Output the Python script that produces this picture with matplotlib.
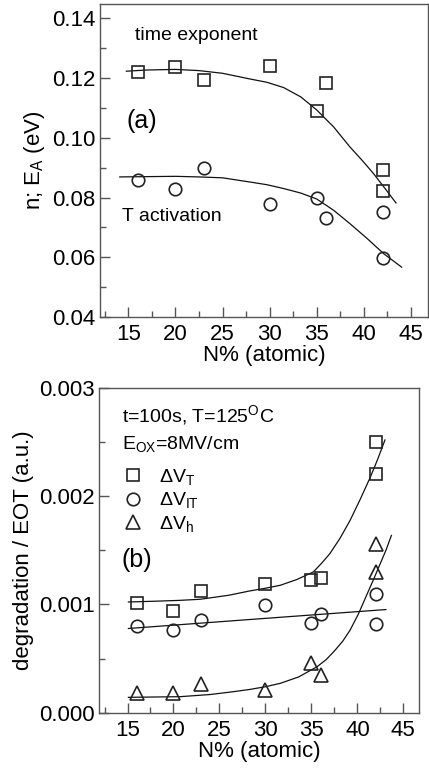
import matplotlib
matplotlib.use("Agg")
import matplotlib.pyplot as plt
from matplotlib.ticker import MultipleLocator, FormatStrFormatter
from matplotlib.lines import Line2D

plt.rcParams['font.family'] = ['Liberation Sans', 'DejaVu Sans']
plt.rcParams['mathtext.fontset'] = 'custom'
plt.rcParams['mathtext.rm'] = 'Liberation Sans'
plt.rcParams['mathtext.it'] = 'Liberation Sans'
plt.rcParams['mathtext.default'] = 'regular'

# ---------------- Panel (a) data ----------------
n_x = [16, 20, 23, 30, 35, 36, 42, 42]
n_time_exp = [0.1221, 0.1238, 0.1193, 0.1241, 0.1089, 0.1184, 0.0891, 0.0822]
ea_x = [16, 20, 23, 30, 35, 36, 42, 42]
ea_t_act = [0.0860, 0.0830, 0.0900, 0.0780, 0.0800, 0.0730, 0.0750, 0.0599]

# fitted guide curves
fit_n_x = [14.8, 17, 20, 22.5, 25, 27.9, 29.7, 31.5, 33.3, 35.0, 36.8, 38.5, 39.8, 41.0, 42.2, 43.4]
fit_n_y = [0.1223, 0.1227, 0.1229, 0.1225, 0.1216, 0.1197, 0.1186, 0.1168, 0.1137, 0.1093, 0.1036, 0.0970, 0.0925, 0.0881, 0.0832, 0.0782]
fit_ea_x = [14.1, 17, 20, 22.5, 25, 27.9, 29.7, 31.5, 33.3, 35.0, 36.8, 38.5, 40.3, 42.1, 44.0]
fit_ea_y = [0.0869, 0.0870, 0.0871, 0.0869, 0.0866, 0.0852, 0.0843, 0.0830, 0.0815, 0.0795, 0.0757, 0.0713, 0.0664, 0.0612, 0.0567]

# ---------------- Panel (b) data ----------------
b_x = [16, 20, 23, 30, 35, 36, 42, 42]
dVT = [0.001017, 0.00094, 0.00112, 0.001186, 0.00123, 0.001248, 0.0025, 0.00221]
dVIT = [0.000805, 0.000768, 0.000854, 0.000993, 0.000833, 0.00091, 0.0011, 0.000824]
dVh = [0.000179, 0.000185, 0.000262, 0.00021, 0.00046, 0.000347, 0.00156, 0.0013]

fit_vt_x = [15.1, 18, 20.7, 22.9, 26, 28.3, 30.0, 31.6, 33.4, 35.2, 36.1, 37.0, 38.1, 39.2, 40.3, 41.4, 42.2, 43.0]
fit_vt_y = [0.001023, 0.001030, 0.001038, 0.001048, 0.001085, 0.001125, 0.00115, 0.001177, 0.00123, 0.001300, 0.00138, 0.001469, 0.00161, 0.001776, 0.00197, 0.002175, 0.00234, 0.00252]
fit_vit_x = [15.1, 28.3, 43.1]
fit_vit_y = [0.000778, 0.000861, 0.000953]
fit_vh_x = [15.1, 20.7, 24.0, 26.5, 28.3, 30.0, 31.6, 33.6, 35.6, 36.6, 37.5, 38.4, 39.2, 40.1, 41.0, 41.7, 42.4, 43.1, 43.7]
fit_vh_y = [0.000142, 0.000148, 0.000168, 0.000194, 0.000215, 0.00024, 0.000271, 0.00033, 0.000424, 0.00049, 0.00057, 0.00066, 0.000762, 0.00091, 0.001085, 0.00122, 0.00136, 0.0015, 0.001638]

xticks = [15, 20, 25, 30, 35, 40, 45]

W, H = 429, 770
fig = plt.figure(figsize=(W / 100, H / 100), dpi=100)

spine_col = '#555555'
mk = dict(linestyle='none', markerfacecolor='none', markeredgecolor='#222222', markeredgewidth=1.2)


def style(ax):
    for s in ax.spines.values():
        s.set_color(spine_col)
        s.set_linewidth(1.0)
    ax.tick_params(which='both', direction='in', colors=spine_col, labelcolor='black',
                   labelsize=16, top=False, right=False)
    ax.tick_params(which='major', length=7, width=1.0, pad=3)
    ax.tick_params(which='minor', length=4, width=1.0)
    ax.tick_params(axis='x', which='major', pad=5)
    ax.xaxis.set_major_locator(MultipleLocator(5))
    ax.xaxis.set_minor_locator(MultipleLocator(2.5))


# ---- (a) ----
ax1 = fig.add_axes([100 / W, 1 - 317 / H, 328 / W, 313 / H])
ax1.plot(fit_n_x, fit_n_y, color='#111111', lw=0.9)
ax1.plot(fit_ea_x, fit_ea_y, color='#111111', lw=0.9)
ax1.plot(n_x, n_time_exp, marker='s', markersize=8, **mk)
ax1.plot(ea_x, ea_t_act, marker='o', markersize=9, **mk)
ax1.set_xlim(12, 46.8)
ax1.set_ylim(0.04, 0.1448)
ax1.set_xticks(xticks)
ax1.yaxis.set_major_locator(MultipleLocator(0.02))
ax1.yaxis.set_minor_locator(MultipleLocator(0.01))
ax1.yaxis.set_major_formatter(FormatStrFormatter('%.2f'))
style(ax1)
ax1.set_xlabel('N% (atomic)', fontsize=16, labelpad=0)
ax1.set_ylabel('n; E$_A$ (eV)', fontsize=16, labelpad=4)
ax1.text(15.74, 0.1341, 'time exponent', fontsize=14, va='center', ha='left')
ax1.text(14.8, 0.1057, '(a)', fontsize=18, va='center', ha='left')
ax1.text(14.33, 0.0735, 'T activation', fontsize=14, va='center', ha='left')

# ---- (b) ----
ax2 = fig.add_axes([99 / W, 1 - 712.7 / H, 320 / W, 324.7 / H])
ax2.plot(fit_vt_x, fit_vt_y, color='#111111', lw=0.9)
ax2.plot(fit_vit_x, fit_vit_y, color='#111111', lw=0.9)
ax2.plot(fit_vh_x, fit_vh_y, color='#111111', lw=0.9)
ax2.plot(b_x, dVT, marker='s', markersize=8, **mk)
ax2.plot(b_x, dVIT, marker='o', markersize=9, **mk)
ax2.plot(b_x, dVh, marker='^', markersize=10.5, **mk)
ax2.set_xlim(11.9, 46.7)
ax2.set_ylim(0, 0.003)
ax2.set_xticks(xticks)
ax2.yaxis.set_major_locator(MultipleLocator(0.001))
ax2.yaxis.set_minor_locator(MultipleLocator(0.0005))
ax2.yaxis.set_major_formatter(FormatStrFormatter('%.3f'))
style(ax2)
ax2.set_xlabel('N% (atomic)', fontsize=16, labelpad=0)
ax2.set_ylabel('degradation / EOT (a.u.)', fontsize=16, labelpad=4)
ax2.text(14.35, 0.002691, 't=100s, T=125$^{O}$C', fontsize=14, va='baseline', ha='left')
ax2.text(14.35, 0.002437, 'E$_{OX}$=8MV/cm', fontsize=14, va='baseline', ha='left')
ax2.text(14.35, 0.001407, '(b)', fontsize=18, va='center', ha='left')

handles = [
    Line2D([], [], marker='s', markersize=8, **mk),
    Line2D([], [], marker='o', markersize=9, **mk),
    Line2D([], [], marker='^', markersize=10.5, **mk),
]
labels = [r'$\Delta$V$_T$', r'$\Delta$V$_{IT}$', r'$\Delta$V$_h$']
ax2.legend(handles, labels, loc='upper left', bbox_to_anchor=(0.077, 0.757), frameon=False,
           fontsize=14, handlelength=1.0, handletextpad=0.8, labelspacing=0.18,
           borderaxespad=0, borderpad=0)

fig.savefig('out.png', dpi=100)
